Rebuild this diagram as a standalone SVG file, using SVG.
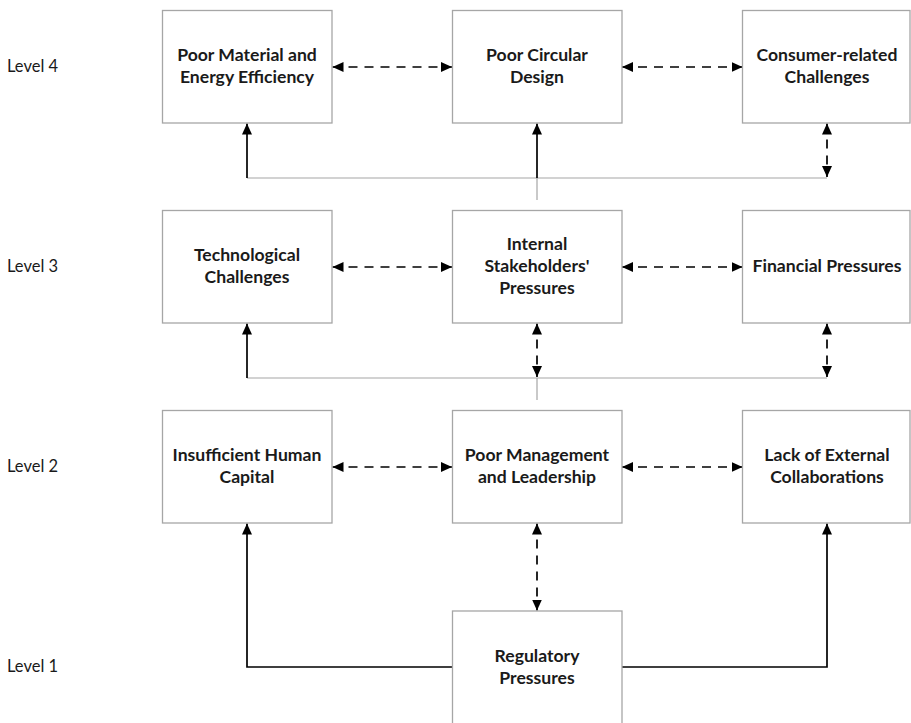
<svg xmlns="http://www.w3.org/2000/svg" width="911" height="723" viewBox="0 0 911 723">
<style>
.box{fill:#ffffff;stroke:#a6a6a6;stroke-width:1.3}
.t{font-family:Lato,"Open Sans","Liberation Sans",sans-serif;font-weight:bold;font-size:17.6px;fill:#1a1a1a;text-anchor:middle}
.lvl{font-family:Lato,"Open Sans","Liberation Sans",sans-serif;font-size:16.5px;fill:#1a1a1a}
.thin{fill:none;stroke:#a6a6a6;stroke-width:1.2}
.solid{fill:none;stroke:#000;stroke-width:1.7}
.dash{fill:none;stroke:#000;stroke-width:1.7;stroke-dasharray:9 7}
</style>
<defs>
<marker id="ah" viewBox="0 0 11 10" refX="11" refY="5" markerWidth="11" markerHeight="10" markerUnits="userSpaceOnUse" orient="auto-start-reverse">
<path d="M0,0 L11,5 L0,10 z" fill="#000"/>
</marker>
</defs>
<rect width="911" height="723" fill="#ffffff"/>
<g id="levels">
<text class="lvl" x="7" y="72">Level 4</text>
<text class="lvl" x="7" y="272">Level 3</text>
<text class="lvl" x="7" y="472">Level 2</text>
<text class="lvl" x="7" y="672">Level 1</text>
</g>
<g id="connectors">
<path class="thin" d="M537,200 V178 M247,178 H827"/>
<path class="thin" d="M537,400 V378 M247,378 H827"/>
<line class="solid" x1="247" y1="178" x2="247" y2="123.5" marker-end="url(#ah)"/>
<line class="solid" x1="537" y1="178" x2="537" y2="123.5" marker-end="url(#ah)"/>
<line class="dash" x1="827" y1="123.5" x2="827" y2="177" marker-start="url(#ah)" marker-end="url(#ah)"/>
<line class="dash" x1="332.5" y1="67" x2="452" y2="67" marker-start="url(#ah)" marker-end="url(#ah)"/>
<line class="dash" x1="622" y1="67" x2="742.5" y2="67" marker-start="url(#ah)" marker-end="url(#ah)"/>
<line class="solid" x1="247" y1="378" x2="247" y2="323.5" marker-end="url(#ah)"/>
<line class="dash" x1="537" y1="323.5" x2="537" y2="377" marker-start="url(#ah)" marker-end="url(#ah)"/>
<line class="dash" x1="827" y1="323.5" x2="827" y2="377" marker-start="url(#ah)" marker-end="url(#ah)"/>
<line class="dash" x1="332.5" y1="267" x2="452" y2="267" marker-start="url(#ah)" marker-end="url(#ah)"/>
<line class="dash" x1="622" y1="267" x2="742.5" y2="267" marker-start="url(#ah)" marker-end="url(#ah)"/>
<line class="dash" x1="332.5" y1="467" x2="452" y2="467" marker-start="url(#ah)" marker-end="url(#ah)"/>
<line class="dash" x1="622" y1="467" x2="742.5" y2="467" marker-start="url(#ah)" marker-end="url(#ah)"/>
<line class="dash" x1="537" y1="523.5" x2="537" y2="610.5" marker-start="url(#ah)" marker-end="url(#ah)"/>
<polyline class="solid" points="452,667 247,667 247,523.5" marker-end="url(#ah)"/>
<polyline class="solid" points="622,667 827,667 827,523.5" marker-end="url(#ah)"/>
</g>
<g id="n-material">
<rect class="box" x="162.5" y="10.5" width="169.5" height="112.5"/>
<text class="t" x="247" y="61">Poor Material and</text>
<text class="t" x="247" y="83">Energy Efficiency</text>
</g>
<g id="n-design">
<rect class="box" x="452.5" y="10.5" width="169.5" height="112.5"/>
<text class="t" x="537" y="61">Poor Circular</text>
<text class="t" x="537" y="83">Design</text>
</g>
<g id="n-consumer">
<rect class="box" x="742.5" y="10.5" width="167.5" height="112.5"/>
<text class="t" x="827" y="61">Consumer-related</text>
<text class="t" x="827" y="83">Challenges</text>
</g>
<g id="n-tech">
<rect class="box" x="162.5" y="210.5" width="169.5" height="112.5"/>
<text class="t" x="247" y="261">Technological</text>
<text class="t" x="247" y="283">Challenges</text>
</g>
<g id="n-internal">
<rect class="box" x="452.5" y="210.5" width="169.5" height="112.5"/>
<text class="t" x="537" y="250">Internal</text>
<text class="t" x="537" y="272">Stakeholders'</text>
<text class="t" x="537" y="294">Pressures</text>
</g>
<g id="n-financial">
<rect class="box" x="742.5" y="210.5" width="167.5" height="112.5"/>
<text class="t" x="827" y="272">Financial Pressures</text>
</g>
<g id="n-human">
<rect class="box" x="162.5" y="410.5" width="169.5" height="112.5"/>
<text class="t" x="247" y="461">Insufficient Human</text>
<text class="t" x="247" y="483">Capital</text>
</g>
<g id="n-management">
<rect class="box" x="452.5" y="410.5" width="169.5" height="112.5"/>
<text class="t" x="537" y="461">Poor Management</text>
<text class="t" x="537" y="483">and Leadership</text>
</g>
<g id="n-external">
<rect class="box" x="742.5" y="410.5" width="167.5" height="112.5"/>
<text class="t" x="827" y="461">Lack of External</text>
<text class="t" x="827" y="483">Collaborations</text>
</g>
<g id="n-regulatory">
<rect class="box" x="452.5" y="611" width="169.5" height="113"/>
<text class="t" x="537" y="662">Regulatory</text>
<text class="t" x="537" y="684">Pressures</text>
</g>
</svg>
